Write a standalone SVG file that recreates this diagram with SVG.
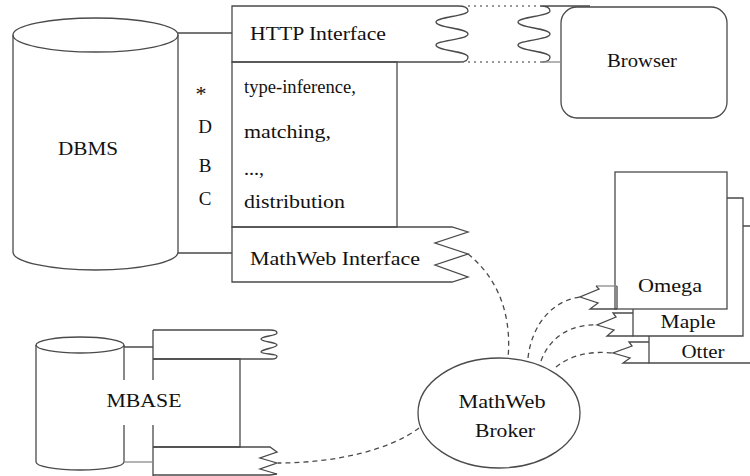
<svg xmlns="http://www.w3.org/2000/svg" width="750" height="476" viewBox="0 0 750 476" font-family="Liberation Serif, Times New Roman, serif" font-size="19">
<style>
.s{fill:none;stroke:#4a4a4a;stroke-width:1.3}
.l{fill:none;stroke:#8a8a8a;stroke-width:1.3}
.d{fill:none;stroke:#4a4a4a;stroke-width:1.3;stroke-dasharray:5 4}
.o{fill:none;stroke:#777;stroke-width:1.3;stroke-dasharray:2 4}
.t{fill:#111}
.m{text-anchor:middle}
</style>
<rect width="750" height="476" fill="#fff"/>

<g id="dbms">
<path class="s" d="M13,35 L13,252 A82.5,18 0 0 0 178,252 L178,35"/>
<ellipse class="s" cx="95.5" cy="35" rx="82.5" ry="17"/>
<text class="t m" x="88" y="155" textLength="60" lengthAdjust="spacingAndGlyphs">DBMS</text>
</g>

<g id="dbc">
<path class="s" d="M178,33 L232,33 M178,253 L232,253"/>
<text class="t m" x="201" y="101" font-size="22">*</text>
<text class="t m" x="205" y="133">D</text>
<text class="t m" x="205" y="172">B</text>
<text class="t m" x="205" y="205">C</text>
</g>

<g id="http-interface">
<path class="s" d="M458,6 L232,6 L232,62 L460,62"/>
<path class="s" d="M458,6 C464,6 468,8 468,11 C468,16 436,17 436,22 C436,28 468,28 468,34 C468,40 436,40 436,45 C436,51 468,51 468,57 C468,60 466,62 460,62"/>
<text class="t" x="250" y="40" textLength="136" lengthAdjust="spacingAndGlyphs">HTTP Interface</text>
</g>

<g id="functions">
<rect class="s" x="232" y="62" width="165" height="165"/>
<text class="t" x="244" y="93" textLength="112" lengthAdjust="spacingAndGlyphs">type-inference,</text>
<text class="t" x="244" y="138" textLength="87" lengthAdjust="spacingAndGlyphs">matching,</text>
<text class="t" x="244" y="175" textLength="20" lengthAdjust="spacingAndGlyphs">...,</text>
<text class="t" x="244" y="208" textLength="101" lengthAdjust="spacingAndGlyphs">distribution</text>
</g>

<g id="mathweb-interface">
<path class="s" d="M232,227 L452,227 L468,232 L435,243 L468,254 L435,265 L468,277 L452,282 L232,282 Z"/>
<text class="t" x="250" y="265" textLength="170" lengthAdjust="spacingAndGlyphs">MathWeb Interface</text>
</g>

<g id="browser">
<rect class="s" x="561" y="7" width="166" height="111" rx="16"/>
<path class="s" d="M590,6 L540,6 C546,6 550,8 550,11 C550,16 518,17 518,22 C518,28 550,28 550,34 C550,40 518,40 518,45 C518,51 550,51 550,57 C550,60 548,62 542,62"/>
<path class="l" d="M542,62 L561,62"/>
<text class="t m" x="642" y="67" textLength="70" lengthAdjust="spacingAndGlyphs">Browser</text>
</g>

<g id="otter">
<path class="s" d="M743,226 L750,226 M649,336 L649,363 L750,363"/>
<path class="s" d="M649,342 L629,342 L632,346 L613,353 L630,358 L623,363 L649,363"/>
<text class="t m" x="703" y="358" textLength="43" lengthAdjust="spacingAndGlyphs">Otter</text>
</g>

<g id="maple">
<path class="s" d="M727,198 L743,198 L743,336 L633,336 L633,309"/>
<path class="s" d="M633,313 L613,313 L616,317 L597,325 L614,330 L607,336 L633,336"/>
<text class="t m" x="688" y="328" textLength="55" lengthAdjust="spacingAndGlyphs">Maple</text>
</g>

<g id="omega">
<rect class="s" x="615" y="172" width="112" height="137"/>
<path class="l" d="M617,286 L596,286"/>
<path class="s" d="M596,286 L599,289 L580,297 L598,303 L590,309 L617,309 M617,286 L617,309"/>
<text class="t m" x="670" y="292" textLength="64" lengthAdjust="spacingAndGlyphs">Omega</text>
</g>

<g id="mbase">
<path class="s" d="M36,345 L36,462 A44,8 0 0 0 124,462 M124,345 L124,380 M124,425 L124,462"/>
<ellipse class="s" cx="80" cy="345" rx="44" ry="8"/>
<path class="s" d="M124,347 L153,347 M153,330 L153,380 M153,425 L153,476"/>
<path class="l" d="M124,462 L153,462"/>
<path class="s" d="M153,330 L270,330 C274,330 277,331 277,333 C277,336 261,336 261,339 C261,342 277,342 277,345 C277,348 261,349 261,352 C261,354 277,354 277,356 C277,358 275,359 272,359 L153,359"/>
<path class="s" d="M153,359 L240,359 L240,447 L153,447"/>
<path class="s" d="M153,447 L270,447 L277,452 L260,458 L277,463 L260,469 L277,474 L270,475 L153,475"/>
<text class="t m" x="144" y="407" textLength="75" lengthAdjust="spacingAndGlyphs">MBASE</text>
</g>

<g id="broker">
<ellipse class="s" cx="499" cy="413" rx="81" ry="55"/>
<text class="t m" x="502" y="408" textLength="87" lengthAdjust="spacingAndGlyphs">MathWeb</text>
<text class="t m" x="505" y="437" textLength="60" lengthAdjust="spacingAndGlyphs">Broker</text>
</g>

<g id="connectors">
<path class="o" d="M468,6 L540,6 M462,62 L542,62"/>
<path class="d" d="M468,254 C498,278 512,315 508,358"/>
<path class="d" d="M419,428 C390,450 335,463 278,463"/>
<path class="d" d="M528,358 C532,322 555,300 580,297"/>
<path class="d" d="M541,361 C550,336 572,324 597,325"/>
<path class="d" d="M556,367 C572,354 592,351 613,353"/>
</g>
</svg>
